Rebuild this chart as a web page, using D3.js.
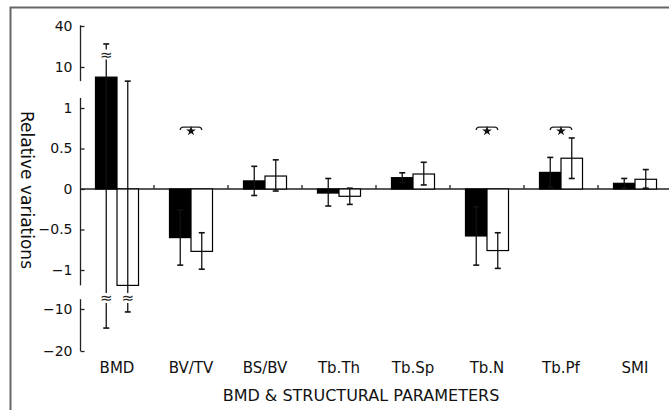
<!DOCTYPE html>
<html>
<head>
<meta charset="utf-8">
<script src="https://cdn.jsdelivr.net/npm/d3@7"></script>
<style>
	body { margin: 0; background: #fff; }
	svg { display: block; font-family: "DejaVu Sans", sans-serif; }
</style>
</head>
<body>
<div id="chart"></div>
<script>
// DATA
const categories = ["BMD", "BV/TV", "BS/BV", "Tb.Th", "Tb.Sp", "Tb.N", "Tb.Pf", "SMI"];
const blackValues = [7.1, -0.60, 0.10, -0.05, 0.14, -0.58, 0.205, 0.07];
const blackLow    = [-13.7, -0.94, -0.08, -0.21, 0.08, -0.94, 0.02, 0.01];
const blackHigh   = [21.8, -0.26, 0.28, 0.13, 0.20, -0.22, 0.39, 0.13];
const whiteValues = [-1.19, -0.77, 0.16, -0.09, 0.185, -0.76, 0.38, 0.12];
const whiteLow    = [-10.5, -0.99, -0.025, -0.19, 0.05, -0.98, 0.13, 0.01];
const whiteHigh   = [6.2, -0.54, 0.36, 0.01, 0.33, -0.54, 0.63, 0.24];
const significant = ["BV/TV", "Tb.N", "Tb.Pf"];
const ticksTop = [40, 10];
const ticksMid = [1, 0.5, 0, -0.5, -1];
const ticksBottom = [-10, -20];

/** DRAW
 * Broken y axis: three stacked scales (log top, linear middle, log bottom).
 */
function drawChart() {
	const width = 669, height = 410;
	const svg = d3.select("#chart").append("svg")
		.attr("width", width)
		.attr("height", height);

	// frame
	svg.append("rect")
		.attr("x", 10.5).attr("y", 7.5)
		.attr("width", 700).attr("height", 450)
		.attr("fill", "none")
		.attr("stroke", "#666")
		.attr("stroke-width", 2);

	// SCALES
	const yTop = d3.scaleLog().domain([10, 40]).range([67, 26]);
	const yMid = d3.scaleLinear().domain([-1, 1]).range([270, 108]);
	const yBot = d3.scaleLog().domain([-10, -20]).range([309, 351]);
	const y = v => v >= 5 ? yTop(v) : (v <= -5 ? yBot(v) : yMid(v));

	const x0 = d3.scaleBand().domain(categories).range([80, 672]);
	const x1 = d3.scaleBand().domain(["black", "white"])
		.range([0, x0.bandwidth()]).paddingOuter(0.72);

	const axisX = 80.5;
	const fmt = d => d < 0 ? "\u2212" + Math.abs(d) : String(d);

	// Y AXIS segments
	const segments = [
		{ scale: yTop, ticks: ticksTop, ext: [41, 6.2] },
		{ scale: yMid, ticks: ticksMid, ext: [1.125, -1.19] },
		{ scale: yBot, ticks: ticksBottom, ext: [-8.5, -20] }
	];
	segments.forEach(s => {
		const g = svg.append("g")
			.attr("transform", `translate(${axisX},0)`)
			.call(d3.axisLeft(s.scale).tickValues(s.ticks).tickFormat(fmt)
				.tickSizeInner(-4).tickSizeOuter(0).tickPadding(8));
		g.select(".domain").remove();
		g.selectAll(".tick line").attr("stroke", "#222").attr("stroke-width", 1.3);
		g.selectAll(".tick text").attr("font-size", 14).attr("fill", "#111")
			.attr("font-family", "DejaVu Sans, sans-serif");
		g.append("line")
			.attr("x1", 0).attr("x2", 0)
			.attr("y1", s.scale(s.ext[0])).attr("y2", s.scale(s.ext[1]))
			.attr("stroke", "#222").attr("stroke-width", 1.3);
	});

	// zero line + category ticks
	svg.append("line")
		.attr("x1", axisX).attr("x2", width)
		.attr("y1", y(0)).attr("y2", y(0))
		.attr("stroke", "#222").attr("stroke-width", 1.3);
	svg.append("g").selectAll("line")
		.data(categories.slice(1))
		.enter().append("line")
			.attr("x1", d => x0(d)).attr("x2", d => x0(d))
			.attr("y1", y(0)).attr("y2", y(0) - 4)
			.attr("stroke", "#222").attr("stroke-width", 1.3);

	// category labels
	svg.append("g").selectAll("text")
		.data(categories)
		.enter().append("text")
			.attr("x", d => x0(d) + x0.bandwidth() / 2)
			.attr("y", 373)
			.attr("text-anchor", "middle")
			.attr("font-size", 15)
			.attr("fill", "#111")
			.text(d => d);

	// BARS
	const series = [
		{ key: "black", values: blackValues, low: blackLow, high: blackHigh, fill: "#000" },
		{ key: "white", values: whiteValues, low: whiteLow, high: whiteHigh, fill: "#fff" }
	];
	series.forEach(s => {
		const rows = categories.map((c, i) => ({ c, v: s.values[i], lo: s.low[i], hi: s.high[i] }));
		const cx = d => x0(d.c) + x1(s.key) + x1.bandwidth() / 2;
		svg.append("g").selectAll("rect")
			.data(rows)
			.enter().append("rect")
				.attr("x", d => x0(d.c) + x1(s.key))
				.attr("y", d => Math.min(y(0), y(d.v)))
				.attr("width", x1.bandwidth())
				.attr("height", d => Math.abs(y(d.v) - y(0)))
				.attr("fill", s.fill)
				.attr("stroke", "#000")
				.attr("stroke-width", 1.2);
		// error bars
		const eg = svg.append("g").attr("stroke", "#111").attr("stroke-width", 1.3);
		eg.selectAll("line.err")
			.data(rows)
			.enter().append("line")
				.attr("class", "err")
				.attr("x1", cx).attr("x2", cx)
				.attr("y1", d => y(d.hi)).attr("y2", d => y(d.lo));
		["hi", "lo"].forEach(k => {
			eg.selectAll("line.cap-" + k)
				.data(rows)
				.enter().append("line")
					.attr("class", "cap-" + k)
					.attr("x1", d => cx(d) - 3).attr("x2", d => cx(d) + 3)
					.attr("y1", d => y(d[k])).attr("y2", d => y(d[k]))
					.attr("stroke-width", 1.6);
		});
	});

	// break marks on the BMD error bars
	const bmdBlack = x0("BMD") + x1("black") + x1.bandwidth() / 2;
	const bmdWhite = x0("BMD") + x1("white") + x1.bandwidth() / 2;
	const breaks = [[bmdBlack, 54.5], [bmdBlack, 298], [bmdWhite, 298]];
	breaks.forEach(([bx, by]) => {
		svg.append("rect")
			.attr("x", bx - 5).attr("y", by - 5)
			.attr("width", 10).attr("height", 10)
			.attr("fill", "#fff");
		svg.append("text")
			.attr("x", bx).attr("y", by + 5)
			.attr("text-anchor", "middle")
			.attr("font-size", 15)
			.attr("fill", "#222")
			.text("\u2248");
	});

	// significance brackets
	const by = yMid(0.765);
	significant.forEach(c => {
		const a = x0(c) + x1("black") + x1.bandwidth() / 2;
		const b = x0(c) + x1("white") + x1.bandwidth() / 2;
		svg.append("path")
			.attr("d", `M${a},${by + 3}Q${a},${by} ${a + 3},${by}L${b - 3},${by}Q${b},${by} ${b},${by + 3}`)
			.attr("fill", "none")
			.attr("stroke", "#222")
			.attr("stroke-width", 1.3);
		svg.append("path")
			.attr("d", d3.symbol().type(d3.symbolStar).size(30)())
			.attr("transform", `translate(${(a + b) / 2},${by + 4})`)
			.attr("fill", "#111");
	});

	// axis titles
	svg.append("text")
		.attr("transform", "translate(21,190) rotate(90)")
		.attr("text-anchor", "middle")
		.attr("font-size", 17)
		.attr("fill", "#111")
		.text("Relative variations");
	svg.append("text")
		.attr("x", 361).attr("y", 401)
		.attr("text-anchor", "middle")
		.attr("font-size", 16)
		.attr("fill", "#111")
		.text("BMD & STRUCTURAL PARAMETERS");
}

document.addEventListener("DOMContentLoaded", drawChart);
</script>
</body>
</html>
